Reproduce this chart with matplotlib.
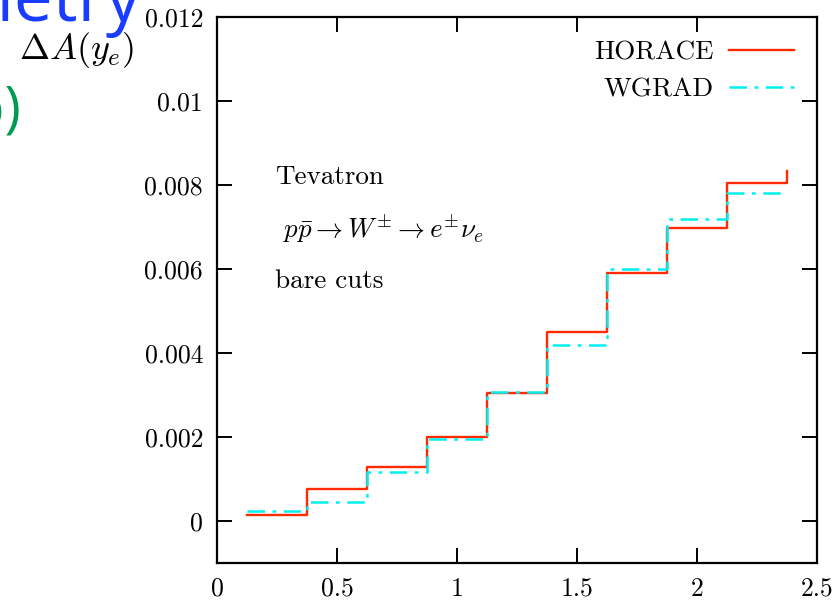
import numpy as np
import matplotlib.pyplot as plt

plt.rcParams['mathtext.fontset'] = 'cm'
plt.rcParams['axes.unicode_minus'] = False

# bin edges in y_e and the asymmetry difference per bin
edges = [0.125, 0.375, 0.625, 0.875, 1.125, 1.375, 1.625, 1.875, 2.125, 2.375]
horace = [0.00014, 0.00076, 0.00129, 0.00199, 0.00304, 0.00451, 0.00590, 0.00697, 0.00804]
horace_end = 0.00834
wgrad = [0.00025, 0.00045, 0.00117, 0.00196, 0.00308, 0.00419, 0.00600, 0.00719, 0.00781]

xticks = [0, 0.5, 1, 1.5, 2, 2.5]
xticklabels = ['0', '0.5', '1', '1.5', '2', '2.5']
yticks = [0, 0.002, 0.004, 0.006, 0.008, 0.01, 0.012]
yticklabels = ['0', '0.002', '0.004', '0.006', '0.008', '0.01', '0.012']

fig = plt.figure(figsize=(8.33, 6.09), dpi=100)
ax = fig.add_axes([0.2605, 0.0755, 0.7203, 0.8965])

ax.step(edges, np.append(horace, horace_end), where='post', color='#ff2a00',
        lw=1.7, label='HORACE', zorder=2)
ax.step(edges, np.append(wgrad, wgrad[-1]), where='post', color='#00f0f0',
        lw=1.8, dashes=(7, 3, 1.5, 3), label='WGRAD', zorder=3)

ax.set_xlim(0, 2.5)
ax.set_ylim(-0.001, 0.012)
ax.set_xticks(xticks)
ax.set_xticklabels(xticklabels)
ax.set_yticks(yticks)
ax.set_yticklabels(yticklabels)
for lab in ax.get_xticklabels() + ax.get_yticklabels():
    lab.set_fontfamily('cmr10')
    lab.set_fontsize(18.5)
ax.tick_params(direction='in', top=True, right=True, length=11, width=1.4)
ax.tick_params(axis='x', pad=10)
ax.tick_params(axis='y', pad=10)
for s in ax.spines.values():
    s.set_linewidth(1.6)

leg = ax.legend(loc='upper right', frameon=False, markerfirst=False,
                prop={'family': 'cmr10', 'size': 19.5}, handlelength=2.4,
                handletextpad=0.55, labelspacing=0.5, borderaxespad=0.45)

ax.text(0.097, 0.707, 'Tevatron', transform=ax.transAxes, family='cmr10',
        fontsize=19.5, va='center')
ax.text(0.11, 0.612, r'$p\bar{p} \to W^{\pm} \to e^{\pm}\nu_e$',
        transform=ax.transAxes, fontsize=19.5, va='center')
ax.text(0.097, 0.516, 'bare cuts', transform=ax.transAxes, family='cmr10',
        fontsize=19.5, va='center')

fig.text(77 / 833, 1 - 50 / 609, r'$\Delta A(y_e)$', fontsize=26,
         ha='center', va='center')

# bits of the slide around the plot
fig.text(141 / 833, 1 - 21 / 609, 'Asymmetry', color='#1a3cff', fontsize=50,
         family='Open Sans', ha='right', va='baseline')
fig.text(22 / 833, 1 - 127 / 609, '(b)', color='#009a50', fontsize=40,
         family='Open Sans', ha='right', va='baseline')

fig.savefig('out.png', dpi=100)
